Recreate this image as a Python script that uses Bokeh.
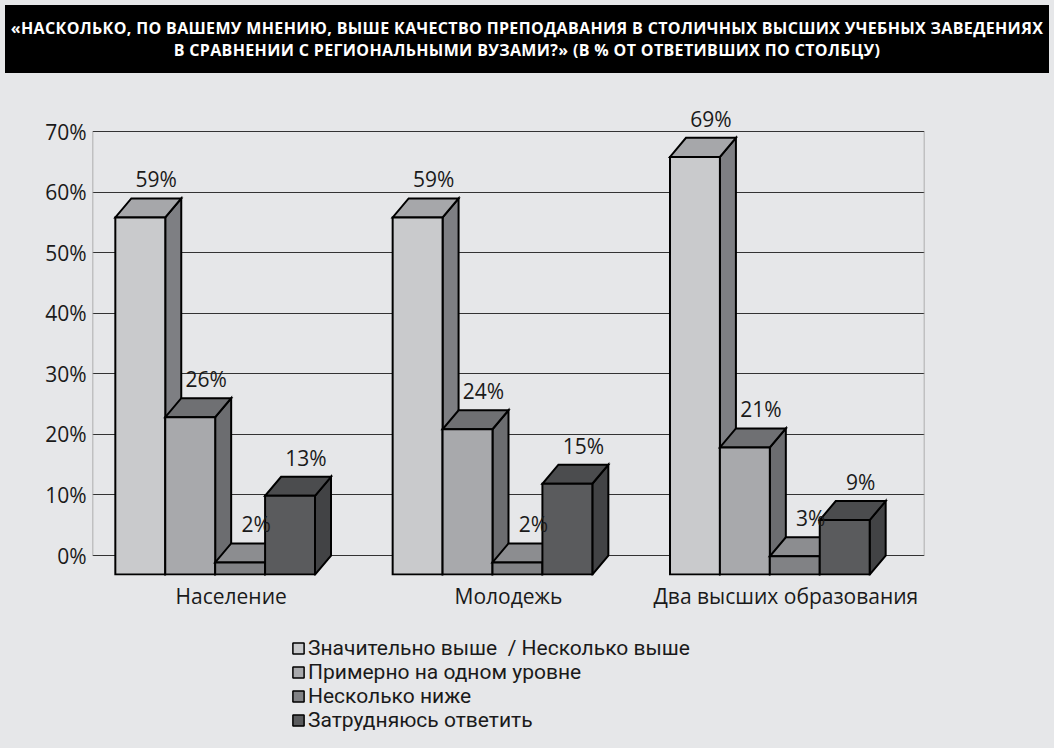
from bokeh.plotting import figure
from bokeh.models import (FixedTicker, PrintfTickFormatter, Legend, LegendItem, Div,
                          ColumnDataSource, Range1d)
from bokeh.layouts import column
from bokeh.embed import file_html
from bokeh.resources import INLINE
from bokeh.core.properties import value

# ---------------- data ----------------
title_lines = [
    "«НАСКОЛЬКО, ПО ВАШЕМУ МНЕНИЮ, ВЫШЕ КАЧЕСТВО ПРЕПОДАВАНИЯ В СТОЛИЧНЫХ ВЫСШИХ УЧЕБНЫХ ЗАВЕДЕНИЯХ",
    "В СРАВНЕНИИ С РЕГИОНАЛЬНЫМИ ВУЗАМИ?» (В % ОТ ОТВЕТИВШИХ ПО СТОЛБЦУ)",
]
categories = ["Население", "Молодежь", "Два высших образования"]
series_names = [
    "Значительно выше  / Несколько выше",
    "Примерно на одном уровне",
    "Несколько ниже",
    "Затрудняюсь ответить",
]
val_higher = [59, 59, 69]
val_same = [26, 24, 21]
val_lower = [2, 2, 3]
val_unsure = [13, 15, 9]
y_ticks = [0, 10, 20, 30, 40, 50, 60, 70]

series_values = [val_higher, val_same, val_lower, val_unsure]

# ---------------- style ----------------
BG = "#e6e7e9"
FONT = "Open Sans"
TXT = "#1a1a1a"
front_colors = ["#c9cacc", "#a8a9ac", "#818285", "#5a5b5d"]
top_colors = ["#a6a7aa", "#6f7073", "#8c8d90", "#4b4c4e"]
side_colors = ["#7e7f83", "#6c6d70", "#6f7073", "#424345"]
BAR_W = 0.18      # width of one bar (x units)
DX = 0.0577       # depth shift in x units
DY = 3.14         # depth shift in y units
NAN = float("nan")

n_cat = len(categories)
n_ser = len(series_values)
y_top = y_ticks[-1]

p = figure(width=1044, height=540, output_backend="svg", toolbar_location=None,
           x_range=Range1d(0, n_cat), y_range=Range1d(-3.3, 76),
           min_border_left=92, min_border_right=120, min_border_top=17,
           min_border_bottom=43,
           background_fill_color=BG, background_fill_alpha=0,
           border_fill_color=BG, outline_line_color=None)

# grid
p.xgrid.visible = False
p.ygrid.ticker = FixedTicker(ticks=y_ticks)
p.ygrid.grid_line_color = "#333333"
p.ygrid.grid_line_width = 1

# wall edges (left axis line and right border)
p.segment(x0=[0, n_cat], y0=[0, 0], x1=[0, n_cat], y1=[y_top, y_top],
          line_color="#9a9a9a", line_width=1.5)

# axes
yax = p.yaxis[0]
yax.ticker = FixedTicker(ticks=y_ticks)
yax.formatter = PrintfTickFormatter(format="%d%%")
yax.axis_line_color = None
yax.major_tick_line_color = None
yax.minor_tick_line_color = None
yax.major_tick_out = 0
yax.major_tick_in = 0
yax.minor_tick_out = 0
yax.major_label_standoff = 6
yax.major_label_text_font = FONT
yax.major_label_text_font_size = "21px"
yax.major_label_text_color = TXT

centers = [i + 0.5 for i in range(n_cat)]
xax = p.xaxis[0]
xax.ticker = FixedTicker(ticks=centers)
xax.major_label_overrides = {c: name for c, name in zip(centers, categories)}
xax.axis_line_color = None
xax.major_tick_line_color = None
xax.minor_tick_line_color = None
xax.major_tick_out = 0
xax.major_tick_in = 0
xax.minor_tick_out = 0
xax.major_label_standoff = 6
xax.major_label_text_font = FONT
xax.major_label_text_font_size = "21px"
xax.major_label_text_color = TXT

# 3D bars
lab_x, lab_y, lab_t = [], [], []
for s, vals in enumerate(series_values):
    side_xs, side_ys, top_xs, top_ys = [], [], [], []
    fl, fr, fb, ft = [], [], [], []
    for g, v in enumerate(vals):
        xb = centers[g] - 2 * BAR_W + s * BAR_W   # back-face left
        xf = xb - DX                              # front-face left
        fl.append(xf); fr.append(xf + BAR_W); fb.append(-DY); ft.append(v - DY)
        top_xs.append([xf, xf + BAR_W, xb + BAR_W, xb])
        top_ys.append([v - DY, v - DY, v, v])
        side_xs.append([xf + BAR_W, xb + BAR_W, xb + BAR_W, xf + BAR_W])
        side_ys.append([-DY, 0, v, v - DY])
        lab_x.append(xb + BAR_W / 2); lab_y.append(v); lab_t.append(f"{v}%")
    p.patches(side_xs, side_ys, fill_color=side_colors[s], line_color="black",
              line_width=2, line_join="miter")
    p.patches(top_xs, top_ys, fill_color=top_colors[s], line_color="black",
              line_width=2, line_join="miter")
    p.quad(left=fl, right=fr, bottom=fb, top=ft, fill_color=front_colors[s],
           line_color="black", line_width=2, line_join="miter")

src = ColumnDataSource(dict(x=lab_x, y=lab_y, t=lab_t))
p.text(x="x", y="y", text="t", source=src, y_offset=-19, text_align="center",
       text_baseline="middle", text_font=value(FONT), text_font_size="21px",
       text_color=TXT)

# legend in its own strip below the chart
lf = figure(width=1044, height=130, output_backend="svg", toolbar_location=None,
            x_axis_type=None, y_axis_type=None, min_border=0,
            background_fill_color=BG, background_fill_alpha=0,
            border_fill_color=BG, outline_line_color=None)
lf.xgrid.visible = False
lf.ygrid.visible = False
items = []
for s in range(n_ser):
    r = lf.quad(left=[NAN], right=[NAN], bottom=[NAN], top=[NAN],
                fill_color=front_colors[s], line_color="black", line_width=1.5)
    items.append(LegendItem(label=series_names[s], renderers=[r]))
legend = Legend(items=items, location=(199, 16), orientation="vertical",
                glyph_width=14, glyph_height=14, label_height=24, spacing=0,
                label_standoff=3, padding=0, margin=0,
                label_text_font="Roboto", label_text_font_size="21px",
                label_text_color=TXT, background_fill_alpha=0,
                border_line_color=None)
lf.add_layout(legend)

title_html = ('<div style="width:1044px;height:68px;display:flex;flex-direction:column;'
              'justify-content:center;align-items:center;text-align:center;white-space:nowrap;'
              'font-family:\'Open Sans\',sans-serif;font-weight:700;font-size:16px;'
              'letter-spacing:0.35px;line-height:22px;color:#ffffff;">'
              + "<br>".join(title_lines) + '</div>')
title_div = Div(text=title_html, width=1044, height=68,
                styles={"background-color": "#000000"})

layout = column(title_div, p, lf, spacing=0, styles={"background-color": BG})
open("out.html", "w").write(file_html(layout, INLINE))
